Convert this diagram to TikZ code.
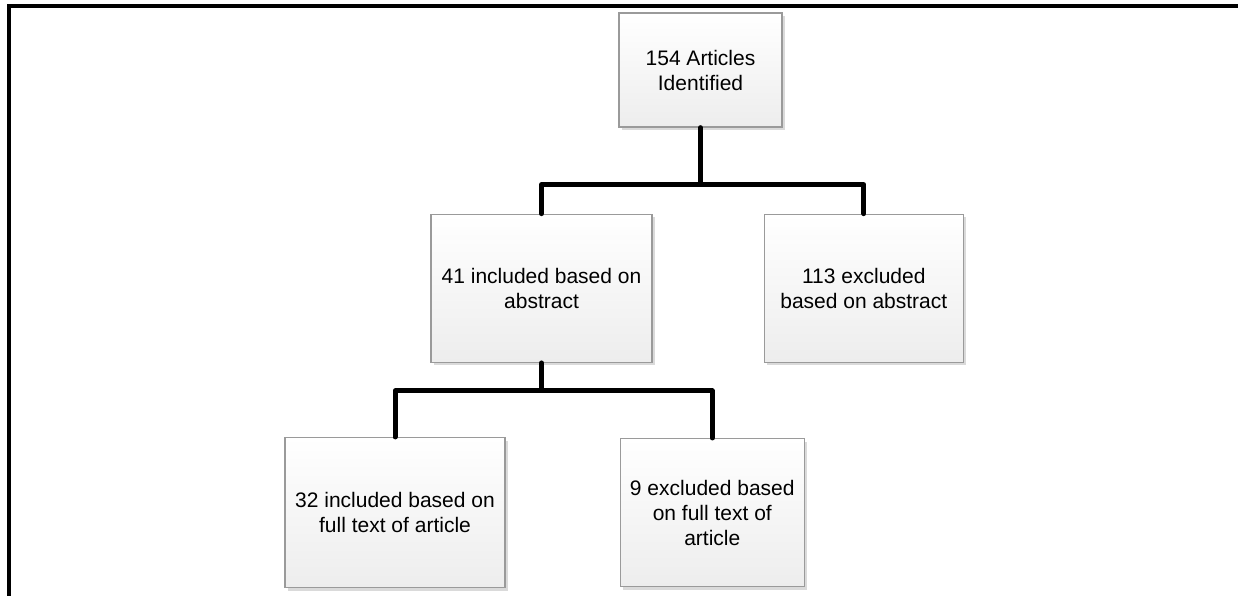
\documentclass[tikz,border=0pt]{standalone}
\usepackage{fontspec}
\setmainfont{Liberation Sans}
\usetikzlibrary{positioning,shadows}
\definecolor{boxedge}{HTML}{9A9A9A}
\definecolor{boxlow}{HTML}{EDEDED}
\definecolor{shade}{HTML}{DADADA}

\begin{document}
\begin{tikzpicture}[
      node distance=86pt,
      box/.style={draw=boxedge,line width=1.3pt,align=center,inner sep=0pt,
        top color=white,bottom color=boxlow,
        drop shadow={shadow xshift=3pt,shadow yshift=-3pt,fill=shade,opacity=1},
        font=\fontsize{21}{25}\selectfont},
      link/.style={line width=5pt,line cap=round,line join=round}]
    \useasboundingbox (0,0) rectangle (1238pt,-596pt);
    % frame on top and left
    \draw[line width=4pt] (9pt,-596pt) -- (9pt,-6pt) -- (1238pt,-6pt);

    \node[box,minimum width=163pt,minimum height=114pt] (ident) at (700.5pt,-70pt)
      {154 Articles\\ Identified};
    \node[box,minimum width=221pt,minimum height=148pt,below=86pt of ident,xshift=-159pt] (inc)
      {41 included based on\\ abstract};
    \node[box,minimum width=199pt,minimum height=148pt,right=111pt of inc] (exc)
      {113 excluded\\ based on abstract};
    \node[box,minimum width=220pt,minimum height=150pt,below=74pt of inc,xshift=-146.5pt] (full)
      {32 included based on\\ full text of article};
    \node[box,minimum width=184pt,minimum height=148pt,right=114pt of full] (fexc)
      {9 excluded based\\ on full text of\\ article};

    \coordinate[below=57pt of ident.south] (j1);
    \coordinate[below=28pt of inc.south] (j2);
    \draw[link] (ident) -- (j1) -| (inc);
    \draw[link] (j1) -| (exc);
    \draw[link] (inc) -- (j2) -| (full);
    \draw[link] (j2) -| (fexc);
  \end{tikzpicture}
\end{document}
